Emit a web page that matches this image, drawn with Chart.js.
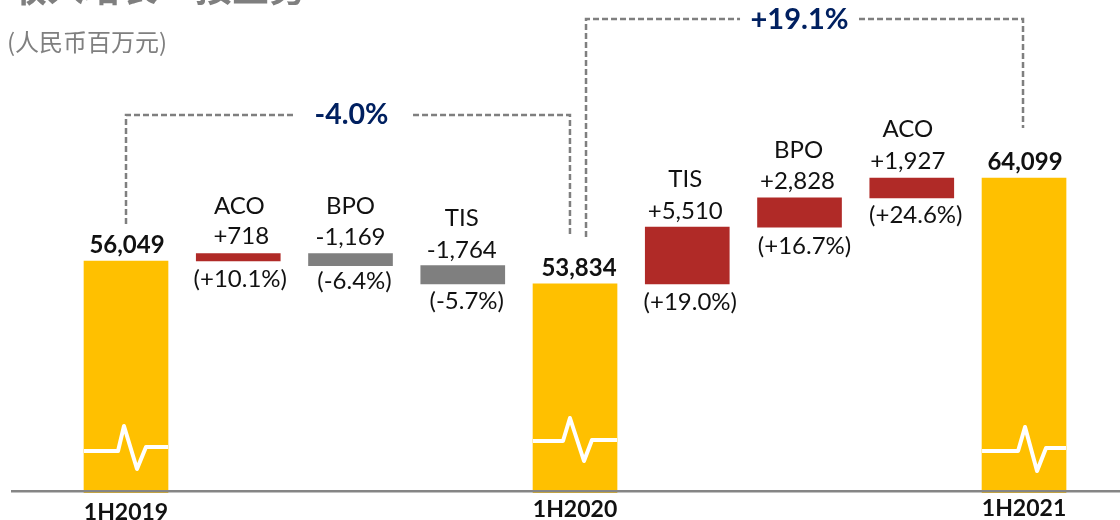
<!DOCTYPE html>
<html>
<head>
<meta charset="utf-8">
<style>
html, body { margin: 0; padding: 0; background: #fff; overflow: hidden; }
#wrap { width: 1120px; height: 520px; }
</style>
<script src="https://cdn.jsdelivr.net/npm/chart.js@4/dist/chart.umd.min.js"></script>
</head>
<body>
<div id="wrap"><canvas id="chart" width="1120" height="520"></canvas></div>
<script>
const periods = ['1H2019', '1H2020', '1H2021'];
const totals = [56049, 53834, 64099];
const stepNames = ['ACO', 'BPO', 'TIS', 'TIS', 'BPO', 'ACO'];
const stepDeltas = [718, -1169, -1764, 5510, 2828, 1927];
const stepPcts = ['(+10.1%)', '(-6.4%)', '(-5.7%)', '(+19.0%)', '(+16.7%)', '(+24.6%)'];
const growthLabels = ['-4.0%', '+19.1%'];

// axis is cut off well above zero in the original
const axisFloor = 33720;
const axisTop = 81390;
const barFloor = 33560;

// dashed brackets between the totals, null leaves the gap for the label
const bracketA = [[0, 59642], [0, 70225], [1.488, 70225], [1.488, null], [2.557, 70225], [3.955, 70225], [3.955, 58380]];
const bracketB = [[4.098, 58380], [4.098, 79545], [5.47, 79545], [5.47, null], [6.53, 79545], [7.991, 79545], [7.991, 68963]];

// white pulse icon inside the yellow bars
const pulseA = [[-0.374, 37603], [-0.071, 37603], [-0.018, 40030], [0.098, 35856], [0.178, 37992], [0.374, 37992]];
const pulseB = [[3.626, 38574], [3.893, 38574], [3.955, 40807], [4.08, 36633], [4.151, 38672], [4.374, 38672]];
const pulseC = [[7.626, 37603], [7.947, 37603], [8.009, 39934], [8.116, 35662], [8.196, 37895], [8.374, 37895]];

const YELLOW = '#FFC000';
const RED = '#B02A27';
const GRAY = '#7F7F7F';
const NAVY = '#002060';
const TEXT = '#111111';
const LATIN = 'Lato, "Open Sans", sans-serif';
const CJK = '"Noto Sans CJK SC", sans-serif';

// build the waterfall from the totals and the steps between them
const bars = [];
const barColors = [];
const stepIndex = [];
let running = 0;
let step = 0;
totals.forEach((total, i) => {
    bars.push({ x: bars.length, y: [barFloor, total] });
    barColors.push(YELLOW);
    running = total;
    if (i === totals.length - 1) return;
    for (let k = 0; k < 3; k++) {
        const delta = stepDeltas[step];
        bars.push({ x: bars.length, y: [Math.min(running, running + delta), Math.max(running, running + delta)] });
        barColors.push(delta > 0 ? RED : GRAY);
        stepIndex[bars.length - 1] = step;
        running += delta;
        step++;
    }
});

const toPoints = rows => rows.map(r => ({ x: r[0], y: r[1] }));
const dashed = rows => ({
    type: 'line', data: toPoints(rows), borderColor: GRAY, borderWidth: 2.5,
    borderDash: [6, 3], pointRadius: 0, tension: 0, spanGaps: false, clip: false
});
const pulse = rows => ({
    type: 'line', data: toPoints(rows), borderColor: '#fff', borderWidth: 4,
    borderJoinStyle: 'round', borderCapStyle: 'butt', pointRadius: 0, tension: 0, order: -1
});

const fmt = n => Math.abs(n).toLocaleString('en-US');
const signed = n => (n > 0 ? '+' : '-') + fmt(n);

// small per-label nudges, the labels in the original are hand placed
const nameDx = [1, 0, -1, -2, -1, -4];
const nameGap = [47, 47, 47, 48, 48, 49];
const deltaDx = [3, 0, -1, -2, -2, -4];
const deltaGap = [17, 16, 15, 16, 17, 17];
const pctDx = [2, 4, 4, 3, 5, 4];
const pctGap = [18, 16, 17, 18, 19, 17];
const totalDx = [1, 4, 1];

const labelPlugin = {
    id: 'labels',
    afterDatasetsDraw(chart) {
        const ctx = chart.ctx;
        const meta = chart.getDatasetMeta(0);
        const xs = chart.scales.x;
        const ys = chart.scales.y;
        const put = (text, x, y, font, color) => {
            ctx.font = font;
            ctx.fillStyle = color;
            ctx.fillText(text, x, y);
        };
        ctx.save();
        ctx.textAlign = 'center';
        ctx.textBaseline = 'middle';
        meta.data.forEach((bar, i) => {
            const s = stepIndex[i];
            const top = Math.min(bar.y, bar.base);
            const bottom = Math.max(bar.y, bar.base);
            if (s === undefined) {
                const t = i / 4;
                put(fmt(totals[t]), bar.x + totalDx[t], top - 16, 'bold 24px ' + LATIN, TEXT);
                return;
            }
            put(stepNames[s], bar.x + nameDx[s], top - nameGap[s], '24px ' + LATIN, TEXT);
            put(signed(stepDeltas[s]), bar.x + deltaDx[s], top - deltaGap[s], '24px ' + LATIN, TEXT);
            put(stepPcts[s], bar.x + pctDx[s], bottom + pctGap[s], '24px ' + LATIN, TEXT);
        });
        put(growthLabels[0], xs.getPixelForValue(2) + 1, ys.getPixelForValue(70225), 'bold 28.5px ' + LATIN, NAVY);
        put(growthLabels[1], xs.getPixelForValue(6), ys.getPixelForValue(79545) + 1, 'bold 29px ' + LATIN, NAVY);
        ctx.textAlign = 'left';
        ctx.textBaseline = 'alphabetic';
        put('收入增长 – 按业务', 10, 2, 'bold 37px ' + CJK, GRAY);
        put('(人民币百万元)', 7, 51, '24px ' + CJK, GRAY);
        ctx.restore();
    }
};

new Chart(document.getElementById('chart').getContext('2d'), {
    type: 'bar',
    data: {
        datasets: [
            { type: 'bar', data: bars, backgroundColor: barColors, barThickness: 84, clip: false, order: 1 },
            dashed(bracketA),
            dashed(bracketB),
            pulse(pulseA),
            pulse(pulseB),
            pulse(pulseC)
        ]
    },
    options: {
        responsive: false,
        animation: false,
        layout: { padding: { left: 12, right: 0, top: 0, bottom: 0 } },
        plugins: { legend: { display: false }, tooltip: { enabled: false } },
        scales: {
            x: {
                type: 'linear',
                offset: false,
                min: -1.0156,
                max: 8.855,
                grid: { display: false, drawTicks: false },
                border: { color: '#858585', width: 2.5, z: 2 },
                afterBuildTicks: scale => {
                    scale.ticks = periods.map((_, i) => ({ value: i * 4 }));
                },
                afterFit: scale => {
                    scale.height = 29;
                },
                ticks: {
                    autoSkip: false,
                    maxRotation: 0,
                    padding: 8,
                    color: TEXT,
                    // line height shifts each label a little, they don't sit level in the original
                    font: c => ({ family: LATIN, size: 23, weight: 'bold', lineHeight: ['28px', '21px', '19px'][c.index] || '21px' }),
                    callback: value => periods[value / 4]
                }
            },
            y: {
                display: false,
                min: axisFloor,
                max: axisTop
            }
        }
    },
    plugins: [labelPlugin]
});
</script>
</body>
</html>
